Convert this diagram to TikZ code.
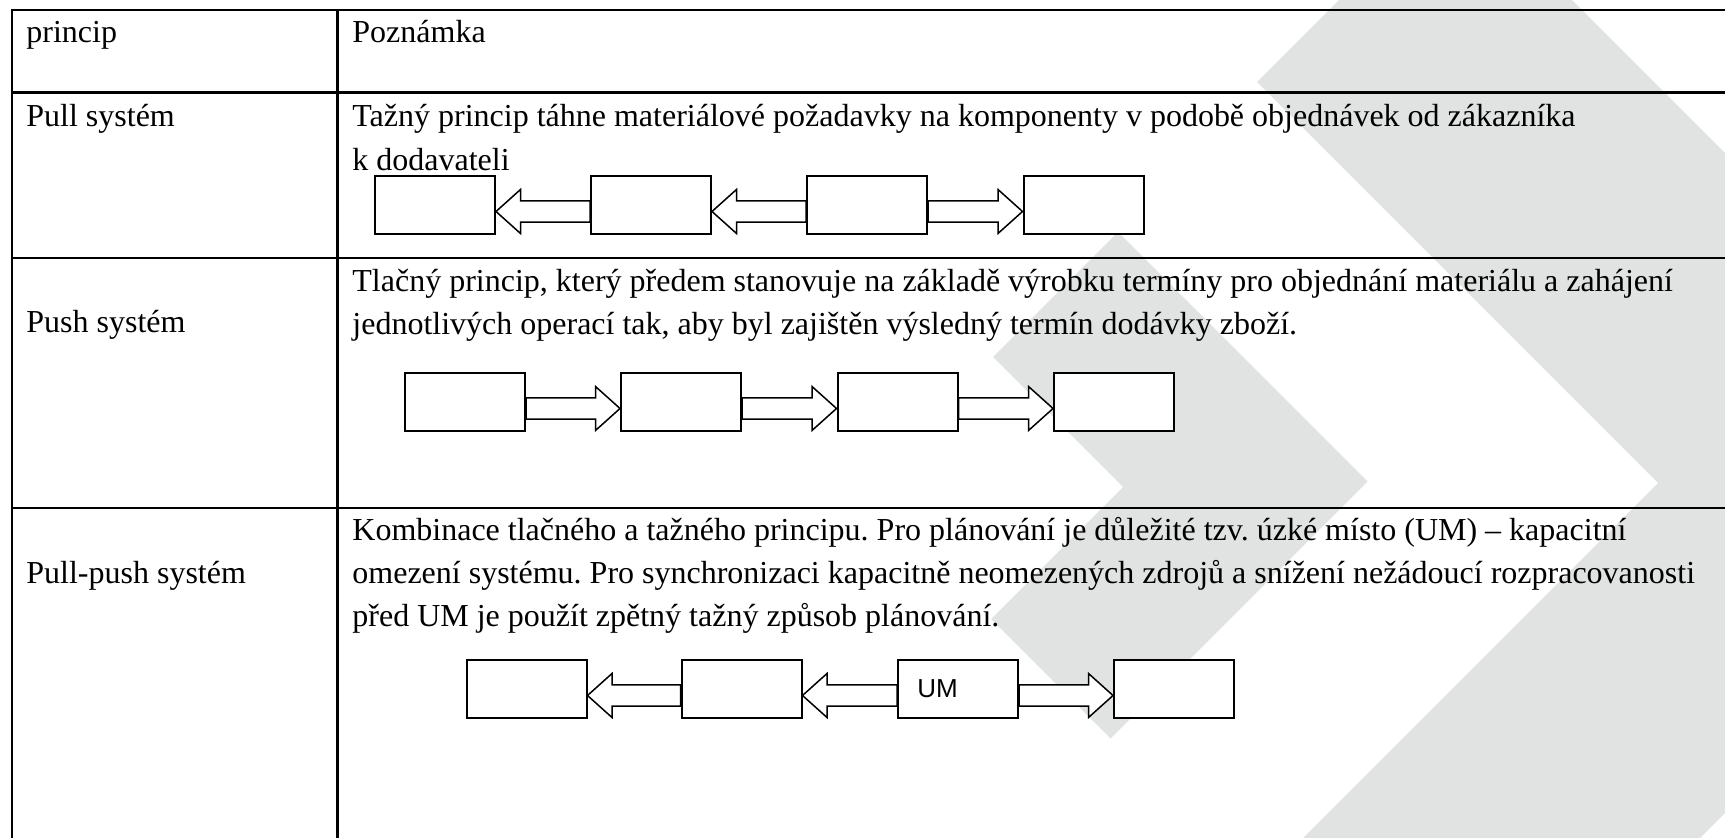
\documentclass[tikz,border=0pt]{standalone}
\usepackage{fontspec}
\setmainfont{Liberation Serif}
\newfontfamily\umfont{Liberation Sans}
\usetikzlibrary{calc}
\definecolor{bggray}{RGB}{225,226,226}
\frenchspacing
\begin{document}
\begin{tikzpicture}[x=0.5pt,y=-0.5pt,
  tline/.style={line width=1.25pt},
  txt/.style={anchor=base west, inner sep=0pt, font=\fontsize{16pt}{21.5pt}\selectfont},
  pbox/.style={draw, fill=white, line width=1pt, minimum width=60pt, minimum height=29pt, inner sep=0pt},
  blockarrow/.style={draw, fill=white, line width=0.75pt, to path={
    let \p1=(\tikztostart), \p2=(\tikztotarget), \p3=($(\p2)!12.25pt!(\p1)$) in
    (\x1,\y1+2.05pt) -- (\x3,\y1+2.05pt) -- (\x3,\y1+7.75pt) -- (\x2,\y1-3.25pt)
    -- (\x3,\y1-14.25pt) -- (\x3,\y1-8.55pt) -- (\x1,\y1-8.55pt) -- cycle}}]
\useasboundingbox (0,0) rectangle (1725,838);
% background chevrons
\begin{scope}
\clip (0,0) rectangle (1725,838);
\fill[bggray] (1257,82) -- (1455.5,-116.5) -- (2055,483) -- (1455.5,1082.5) -- (1257,884) -- (1658,483) -- cycle;
\fill[bggray] (1118,232) -- (1367.5,481.5) -- (1110.5,738.5) -- (991,619) -- (1123,487) -- (993,357) -- cycle;
\end{scope}
% table
\draw[tline] (1725,10) -- (12,10) -- (12,838);
\draw[tline] (337.5,10) -- (337.5,838);
\draw[tline] (12,92.5) -- (1725,92.5);
\draw[tline] (12,258) -- (1725,258);
\draw[tline] (12,508) -- (1725,508);
% texts
\node[txt] (h1) at (26,43) {princip};
\node[txt] (h2) at (352,43) {Poznámka};
\node[txt] (r1) at (26,127) {Pull systém};
\node[txt] (n1a) at (352,127) {Tažný princip táhne materiálové požadavky na komponenty v podobě objednávek od zákazníka};
\node[txt] (n1b) at (352,171) {k dodavateli};
\node[txt] (r2) at (26,333) {Push systém};
\node[txt] (n2a) at (352,292) {Tlačný princip, který předem stanovuje na základě výrobku termíny pro objednání materiálu a zahájení};
\node[txt] (n2b) at (352,335) {jednotlivých operací tak, aby byl zajištěn výsledný termín dodávky zboží.};
\node[txt] (r3) at (26,584) {Pull-push systém};
\node[txt] (n3a) at (352,541) {Kombinace tlačného a tažného principu. Pro plánování je důležité tzv. úzké místo (UM) – kapacitní};
\node[txt] (n3b) at (352,584) {omezení systému. Pro synchronizaci kapacitně neomezených zdrojů a snížení nežádoucí rozpracovanosti};
\node[txt] (n3c) at (352,627) {před UM je použít zpětný tažný způsob plánování.};
% pull row
\node[pbox] (a1) at (435,205) {};
\node[pbox] (a2) at (651,205) {};
\node[pbox] (a3) at (867,205) {};
\node[pbox] (a4) at (1083.5,205) {};
\draw[blockarrow] (a2.west) to (a1.east);
\draw[blockarrow] (a3.west) to (a2.east);
\draw[blockarrow] (a3.east) to (a4.west);
% push row
\node[pbox] (b1) at (465,402) {};
\node[pbox] (b2) at (681,402) {};
\node[pbox] (b3) at (897.5,402) {};
\node[pbox] (b4) at (1114,402) {};
\draw[blockarrow] (b1.east) to (b2.west);
\draw[blockarrow] (b2.east) to (b3.west);
\draw[blockarrow] (b3.east) to (b4.west);
% pull-push row
\node[pbox] (c1) at (526.5,689) {};
\node[pbox] (c2) at (741.5,689) {};
\node[pbox] (c3) at (958,689) {};
\node[pbox] (c4) at (1174,689) {};
\node[anchor=west, inner sep=0pt, font=\umfont\fontsize{13pt}{15pt}\selectfont] (um) at ($(c3.west)+(20,0)$) {UM};
\draw[blockarrow] (c2.west) to (c1.east);
\draw[blockarrow] (c3.west) to (c2.east);
\draw[blockarrow] (c3.east) to (c4.west);
\end{tikzpicture}
\end{document}
